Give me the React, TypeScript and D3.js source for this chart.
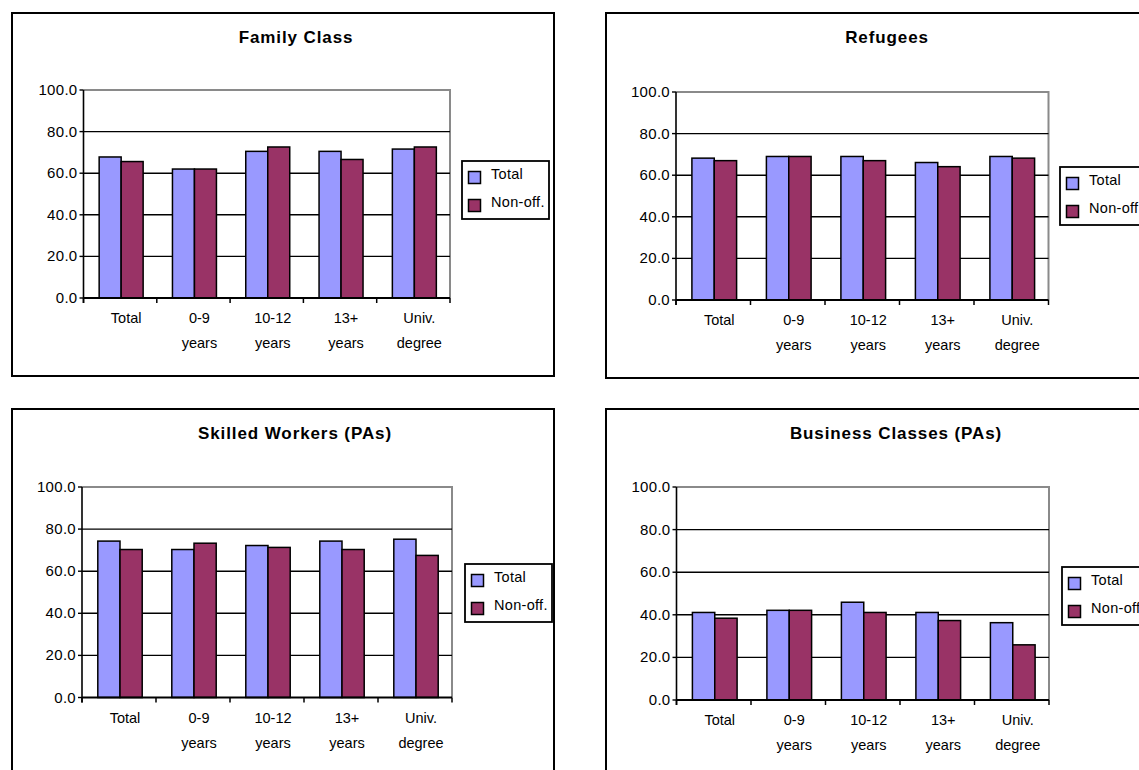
import React from "react";
import * as d3 from "d3";

// categories along the x axis (second line of the label after "|")
const categories = ["Total", "0-9|years", "10-12|years", "13+|years", "Univ.|degree"];
const seriesNames = ["Total", "Non-off."];
const yTicks = [0, 20, 40, 60, 80, 100];

const titles = ["Family Class", "Refugees", "Skilled Workers (PAs)", "Business Classes (PAs)"];

const familyTotal = [67.8, 62, 70.5, 70.5, 71.6];
const familyNonOff = [65.6, 62, 72.6, 66.6, 72.6];
const refugeesTotal = [68.2, 69, 69, 66.1, 69];
const refugeesNonOff = [67, 69, 67, 64.1, 68.2];
const skilledTotal = [74.3, 70.3, 72.2, 74.3, 75.2];
const skilledNonOff = [70.3, 73.3, 71.3, 70.3, 67.5];
const businessTotal = [41.1, 42.1, 45.9, 41.1, 36.3];
const businessNonOff = [38.4, 42.1, 41.1, 37.3, 25.9];

const panelData = [
  [familyTotal, familyNonOff],
  [refugeesTotal, refugeesNonOff],
  [skilledTotal, skilledNonOff],
  [businessTotal, businessNonOff],
];

// page layout of the four chart boxes
const layout = [
  { box: [12, 13, 542, 363], plot: [83.5, 450, 90, 298], titleX: 296, titleY: 43, legend: [462, 161] },
  { box: [606, 13, 600, 365], plot: [676, 1048.5, 92, 300], titleX: 887, titleY: 43, legend: [1060, 167] },
  { box: [12, 409, 542, 420], plot: [82, 452, 487, 697.5], titleX: 295, titleY: 439, legend: [465, 564] },
  { box: [606, 409, 600, 420], plot: [676.5, 1049, 487, 700], titleX: 896, titleY: 439, legend: [1062, 567] },
];

const colors = ["#9999FF", "#993366"];
const font = "Arial, 'Liberation Sans', sans-serif";

function Panel({ idx }: { idx: number }) {
  const L = layout[idx];
  const [bx, by, bw, bh] = L.box;
  const [left, right, top, bottom] = L.plot;
  const values = panelData[idx];

  const x = d3.scaleBand().domain(categories).range([left, right]);
  const y = d3.scaleLinear().domain([0, 100]).range([bottom, top]);
  const band = x.bandwidth();
  const sub = d3.scaleBand().domain(seriesNames).range([band * 0.2 + 1, band * 0.8 + 1]);
  const fmt = d3.format(".1f");
  const [lx, ly] = L.legend;
  const clipId = "leg" + idx;

  return (
    <g>
      <rect x={bx} y={by} width={bw} height={bh} fill="#fff" stroke="#000" strokeWidth={2} />
      <text
        x={L.titleX}
        y={L.titleY}
        textAnchor="middle"
        fontFamily={font}
        fontWeight="bold"
        fontSize={17}
        letterSpacing={0.9}
      >
        {titles[idx]}
      </text>

      {/* plot area border */}
      <path d={`M${left},${top}H${right}V${bottom}`} fill="none" stroke="#8a8a8a" strokeWidth={2} />

      {/* gridlines */}
      {yTicks
        .filter((t) => t > 0 && t < 100)
        .map((t) => (
          <line key={t} x1={left} x2={right} y1={y(t)} y2={y(t)} stroke="#000" strokeWidth={1.4} />
        ))}

      {/* bars */}
      {categories.map((c, i) =>
        seriesNames.map((s, j) => (
          <rect
            key={c + s}
            x={(x(c) as number) + (sub(s) as number)}
            y={y(values[j][i])}
            width={sub.bandwidth()}
            height={y(0) - y(values[j][i])}
            fill={colors[j]}
            stroke="#000"
            strokeWidth={1.5}
          />
        ))
      )}

      {/* y axis */}
      <line x1={left} x2={left} y1={top} y2={bottom + 5} stroke="#000" strokeWidth={1.6} />
      {yTicks.map((t) => (
        <g key={t}>
          <line x1={left - 4} x2={left} y1={y(t)} y2={y(t)} stroke="#000" strokeWidth={1.4} />
          <text
            x={left - 6}
            y={y(t) + 5}
            textAnchor="end"
            fontFamily={font}
            fontSize={15}
            letterSpacing={0.3}
          >
            {fmt(t)}
          </text>
        </g>
      ))}

      {/* x axis */}
      <line x1={left} x2={right} y1={bottom} y2={bottom} stroke="#000" strokeWidth={1.8} />
      {categories.concat(["end"]).map((c, i) => {
        const xp = left + i * band;
        return <line key={c} x1={xp} x2={xp} y1={bottom} y2={bottom + 5} stroke="#000" strokeWidth={1.5} />;
      })}
      {categories.map((c) => {
        const cx = (x(c) as number) + band / 2 + 6;
        return c.split("|").map((part, k) => (
          <text
            key={c + k}
            x={cx}
            y={bottom + 25 + k * 25}
            textAnchor="middle"
            fontFamily={font}
            fontSize={14.5}
          >
            {part}
          </text>
        ));
      })}

      {/* legend */}
      <clipPath id={clipId}>
        <rect x={lx} y={ly} width={87} height={58} />
      </clipPath>
      <rect x={lx} y={ly} width={87} height={58} fill="#fff" stroke="#000" strokeWidth={1.8} />
      <g clipPath={`url(#${clipId})`}>
        {seriesNames.map((s, j) => (
          <g key={s}>
            <rect
              x={lx + 6.5}
              y={ly + 10.5 + j * 28}
              width={12}
              height={12}
              fill={colors[j]}
              stroke="#000"
              strokeWidth={1.5}
            />
            <text x={lx + 29} y={ly + 17.5 + j * 28.5} fontFamily={font} fontSize={14.5} letterSpacing={0.3}>
              {s}
            </text>
          </g>
        ))}
      </g>
    </g>
  );
}

export default function App() {
  return (
    <div style={{ position: "fixed", left: 0, top: 0, width: 1139, height: 770, overflow: "hidden", background: "#fff" }}>
      <svg width={1139} height={770} style={{ display: "block" }}>
        <rect width={1139} height={770} fill="#fff" />
        {titles.map((t, i) => (
          <Panel key={t} idx={i} />
        ))}
      </svg>
    </div>
  );
}
